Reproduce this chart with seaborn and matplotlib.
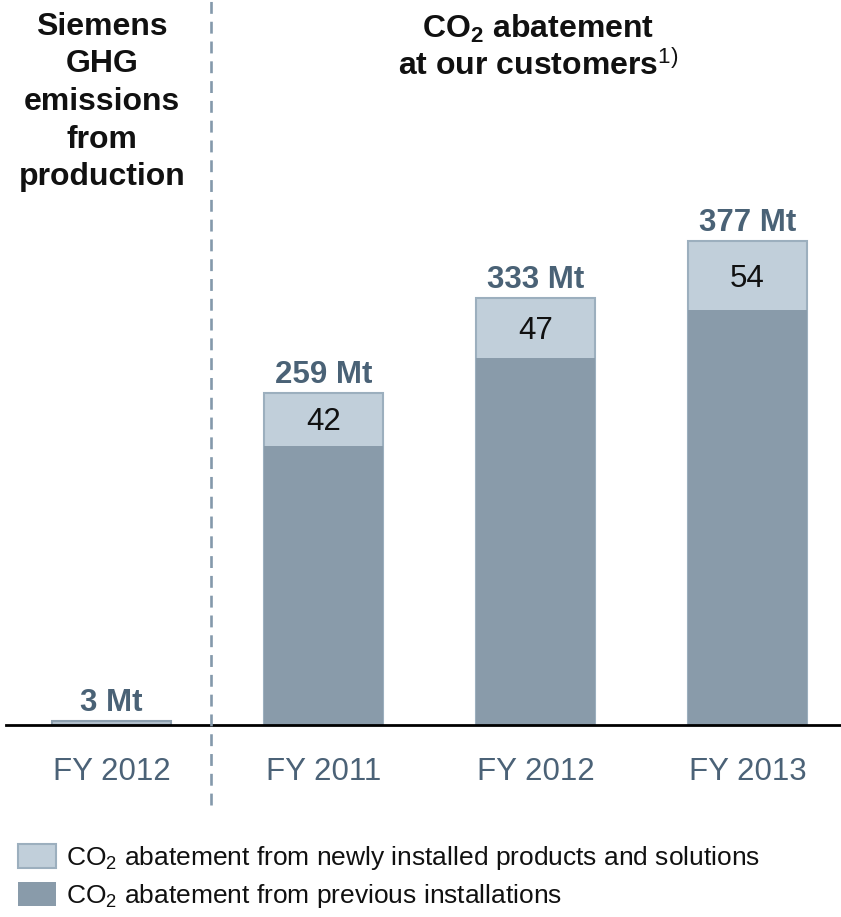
import matplotlib
matplotlib.use("Agg")
import matplotlib.pyplot as plt
from matplotlib.patches import Patch
from matplotlib.lines import Line2D
import seaborn as sns
import pandas as pd

# ---------------- data ----------------
categories = ["GHG FY 2012", "FY 2011", "FY 2012", "FY 2013"]
tick_labels = ["FY 2012", "FY 2011", "FY 2012", "FY 2013"]
total_mt = [3, 259, 333, 377]
new_installations = [0, 42, 47, 54]
previous_installations = [0, 217, 286, 323]
legend_labels = [
    r"CO$_{\mathrm{2}}$ abatement from newly installed products and solutions",
    r"CO$_{\mathrm{2}}$ abatement from previous installations",
]
left_header = ["Siemens", "GHG", "emissions", "from", "production"]
right_header = [r"CO$_{\mathbf{2}}$ abatement", r"at our customers$^{\mathrm{1)}}$"]

# ---------------- style ----------------
sns.set_theme(style="white")
plt.rcParams["font.family"] = ["Liberation Sans", "DejaVu Sans"]
plt.rcParams["mathtext.fontset"] = "custom"
plt.rcParams["mathtext.rm"] = "Liberation Sans"
plt.rcParams["mathtext.bf"] = "Liberation Sans:bold"
plt.rcParams["mathtext.it"] = "Liberation Sans:italic"

LIGHT = "#c1cfda"
EDGE = "#9cafbe"
DARK = "#899baa"
GHG_FILL = "#b2c0cc"
GHG_EDGE = "#8d9fae"
LABEL = "#4a6276"
TICK = "#4b6277"
DASH = "#8499ab"

df = pd.DataFrame({
    "category": categories,
    "total": total_mt,
    "new": new_installations,
    "previous": previous_installations,
})

W, H = 841, 917
fig = plt.figure(figsize=(W / 100, H / 100), dpi=100)
base_y = 725
ax = fig.add_axes([6 / W, (H - base_y) / H, (W - 6) / W, base_y / H])

bw = 119 / 212
sns.barplot(data=df, x="category", y="total", order=categories, color=LIGHT,
            edgecolor=EDGE, linewidth=1.5, width=bw, saturation=1,
            errorbar=None, ax=ax)
sns.barplot(data=df, x="category", y="previous", order=categories, color=DARK,
            linewidth=0, width=bw, saturation=1, errorbar=None, ax=ax)
ax.patches[0].set_facecolor(GHG_FILL)
ax.patches[0].set_edgecolor(GHG_EDGE)

ax.set_xlim(-0.498, 3.441)
ax.set_ylim(0, base_y / 1.2835)
for s in ["top", "right", "left"]:
    ax.spines[s].set_visible(False)
ax.spines["bottom"].set_color("black")
ax.spines["bottom"].set_linewidth(2)
ax.set_yticks([])
ax.set_xticks(range(len(categories)))
ax.set_xticklabels(tick_labels, color=TICK, fontsize=22.5)
ax.tick_params(axis="x", length=0, pad=23)
ax.set_xlabel("")
ax.set_ylabel("")

for i, t in enumerate(total_mt):
    ax.annotate(f"{t} Mt", (i, t), xytext=(0, 2), textcoords="offset points",
                ha="center", va="bottom", fontsize=22.5, fontweight="bold",
                color=LABEL)
for i, (p, n) in enumerate(zip(previous_installations, new_installations)):
    if n:
        ax.annotate(str(n), (i, p + n / 2), xytext=(0, -2),
                    textcoords="offset points", ha="center", va="center",
                    fontsize=22.5, color="#111111")

# dashed separator
fig.add_artist(Line2D([211 / W, 211 / W], [1 - 805 / H, 1.0],
                      transform=fig.transFigure, color=DASH, lw=1.9,
                      linestyle=(0, (4.5, 3))))

# headers
for k, line in enumerate(left_header):
    fig.text(102 / W, 1 - (35 + 37.5 * k) / H, line, ha="center",
             va="baseline", fontsize=23, fontweight="bold", color="#111111")
for k, line in enumerate(right_header):
    fig.text(538 / W, 1 - (38 + 37 * k) / H, line, ha="center",
             va="baseline", fontsize=23, fontweight="bold", color="#111111")

handles = [Patch(facecolor=LIGHT, edgecolor=EDGE, linewidth=1.5),
           Patch(facecolor=DARK, edgecolor="none")]
fig.legend(handles=handles, labels=legend_labels, loc="upper left",
           bbox_to_anchor=(18 / W, 1 - 844 / H), frameon=False, fontsize=19,
           handlelength=1.45, handleheight=1.0, handletextpad=0.37,
           labelspacing=0.38, borderpad=0, borderaxespad=0,
           labelcolor="#111111")

fig.savefig("out.png", dpi=100)
